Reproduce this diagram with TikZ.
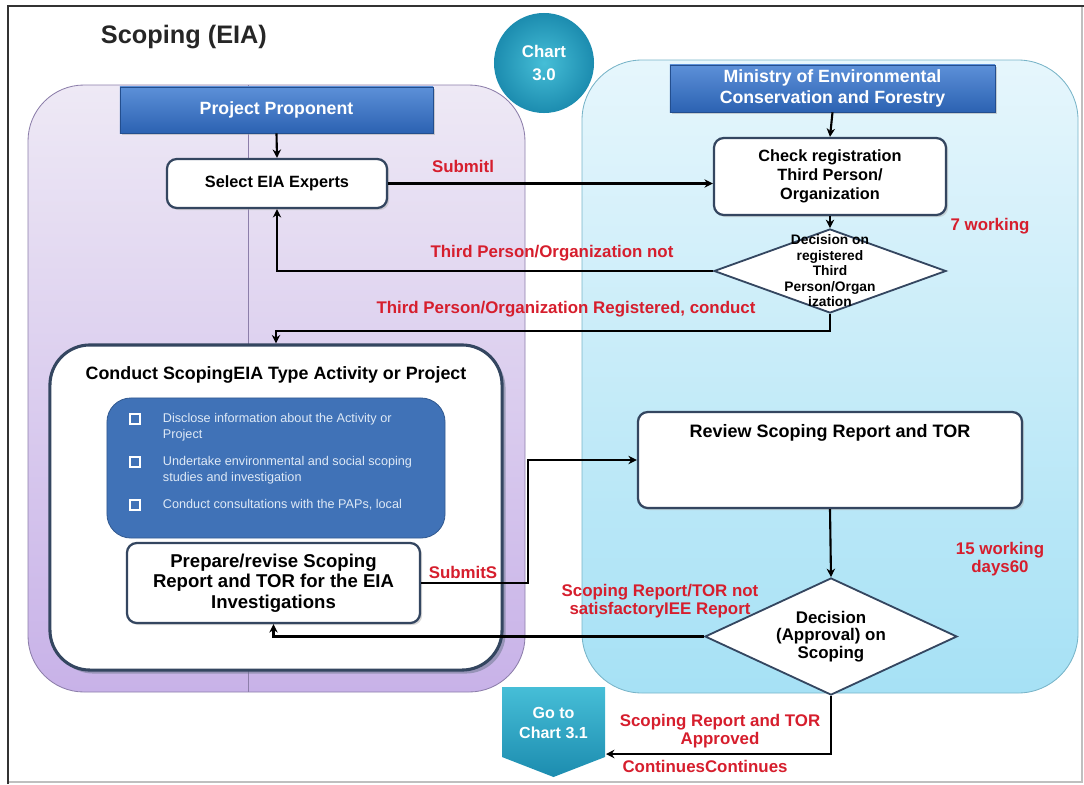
\documentclass[tikz,border=0pt]{standalone}
\usepackage{fontspec}
\setmainfont{Liberation Sans}
\setsansfont{Liberation Sans}
\usetikzlibrary{positioning,shapes.geometric,arrows.meta,shadows}

\definecolor{boxline}{RGB}{52,70,96}
\definecolor{notered}{RGB}{214,30,45}
\definecolor{hdrtop}{RGB}{92,144,216}
\definecolor{hdrbot}{RGB}{44,98,178}
\definecolor{innerblue}{RGB}{64,114,183}
\definecolor{bullettext}{RGB}{222,233,246}
\definecolor{lilactop}{RGB}{238,233,245}
\definecolor{lilacbot}{RGB}{200,178,232}
\definecolor{lilacline}{RGB}{140,126,170}
\definecolor{cyantop}{RGB}{230,246,252}
\definecolor{cyanbot}{RGB}{166,225,245}
\definecolor{cyanline}{RGB}{120,180,200}
\definecolor{tealtop}{RGB}{70,190,215}
\definecolor{tealbot}{RGB}{28,140,175}

\tikzset{
  lanehdr/.style={rectangle, inner sep=0pt, align=center, text=white,
    font=\bfseries\fontsize{12.6}{14.4}\selectfont,
    top color=hdrtop, bottom color=hdrbot, draw=hdrbot!80!black, line width=0.4pt,
    drop shadow={shadow xshift=1.5pt, shadow yshift=-1.5pt, fill=black!35}},
  procbox/.style={rectangle, rounded corners=7pt, draw=boxline, line width=1.6pt,
    fill=white, inner sep=0pt, align=center,
    font=\bfseries\fontsize{11.6}{13.6}\selectfont,
    drop shadow={shadow xshift=1.5pt, shadow yshift=-1.5pt, fill=black!30}},
  decision/.style={diamond, draw=boxline, line width=1.3pt, fill=white, inner sep=0pt},
  flow/.style={-{Stealth[length=6pt, width=6pt]}, line width=1.5pt, black},
  note/.style={text=notered, align=center, font=\bfseries\fontsize{12}{13.2}\selectfont},
  tickbox/.style={rectangle, draw=white, line width=0.9pt, minimum size=7pt, inner sep=0pt},
  bullettxt/.style={anchor=west, align=left, text=bullettext, font=\fontsize{9}{11.6}\selectfont}
}

\begin{document}
\begin{tikzpicture}[x=0.025cm, y=-0.025cm]
  \useasboundingbox (0,0) rectangle (1084,784);

  %%%%% FRAME %%%%%
  \draw[black!25, line width=0.8pt] (8,6) rectangle (1082,782);
  \draw[black!80, line width=1.5pt] (8,784) -- (8,6) -- (1084,6);

  \node[anchor=west, text=black!85, font=\bfseries\fontsize{18}{20}\selectfont] (title) at (96,37) {Scoping (EIA)};

  %%%%% LANES %%%%%
  \draw[rounded corners=1.4cm, top color=lilactop, bottom color=lilacbot, draw=lilacline, line width=0.6pt] (28,85) rectangle (525,692);
  \draw[lilacline, line width=0.6pt] (248,85) -- (248,692);
  \draw[rounded corners=1.5cm, top color=cyantop, bottom color=cyanbot, draw=cyanline, line width=0.6pt] (582,60) rectangle (1078,693);

  \node[circle, minimum size=2.5cm, inner sep=0pt, inner color=tealtop, outer color=tealbot,
    text=white, align=center, font=\bfseries\fontsize{12}{17}\selectfont] (chart) at (544,63) {Chart\\3.0};

  %%%%% HEADERS %%%%%
  \node[lanehdr, minimum width=7.825cm, minimum height=1.15cm] (proponent) at (276.5,110) {Project Proponent};
  \node[lanehdr, minimum width=8.125cm, minimum height=1.175cm] (ministry) at (832.5,88.5) {Ministry of Environmental\\Conservation and Forestry};

  %%%%% REGISTRATION %%%%%
  \node[procbox, minimum width=5.5cm, minimum height=1.225cm] (select) at (277,183.5) {Select EIA Experts};
  \node[procbox, minimum width=5.8cm, minimum height=1.925cm] (check) at (830,176.5) {Check registration\\Third Person/\\Organization};
  \node[decision, minimum width=5.8cm, minimum height=2.1cm,
    label={[align=center, font=\bfseries\fontsize{9.8}{11}\selectfont]center:Decision on\\registered\\Third\\Person/Organ\\ization}] (dec1) at (830,271) {};

  %%%%% SCOPING %%%%%
  \node[rectangle, rounded corners=1cm, draw=boxline, line width=2.2pt, fill=white,
    minimum width=11.3cm, minimum height=8.125cm,
    drop shadow={shadow xshift=2.5pt, shadow yshift=-2.5pt, fill=boxline!75}] (conduct) at (276,507.5) {};
  \node[font=\bfseries\fontsize{12.7}{14}\selectfont] (conducttxt) at (276,375) {Conduct ScopingEIA Type Activity or Project};
  \node[rectangle, rounded corners=0.6cm, fill=innerblue, draw=innerblue!80!black, line width=0.6pt,
    minimum width=8.45cm, minimum height=3.5cm] (tasks) at (276,468) {};

  \node[tickbox] (tick1) at (135,419) {};
  \node[tickbox] (tick2) at (135,462) {};
  \node[tickbox] (tick3) at (135,505) {};
  \node[bullettxt] (task1) at (158,427) {Disclose information about the Activity or\\Project};
  \node[bullettxt] (task2) at (158,470) {Undertake environmental and social scoping\\studies and investigation};
  \node[bullettxt] (task3) at (158,505) {Conduct consultations with the PAPs, local};

  \node[procbox, minimum width=7.325cm, minimum height=2cm, font=\bfseries\fontsize{13.2}{14.4}\selectfont] (prepare) at (273.5,583) {Prepare/revise Scoping\\Report and TOR for the EIA\\Investigations};

  \node[procbox, minimum width=9.6cm, minimum height=2.4cm] (review) at (830,460) {};
  \node[font=\bfseries\fontsize{12.8}{14}\selectfont] (reviewtxt) at (830,433) {Review Scoping Report and TOR};
  \node[decision, minimum width=6.3cm, minimum height=2.925cm,
    label={[align=center, font=\bfseries\fontsize{12}{12.6}\selectfont]center:Decision\\(Approval) on\\Scoping}] (dec2) at (831,636.5) {};

  %%%%% GO TO %%%%%
  \draw[top color=tealtop, bottom color=tealbot, draw=none] (502,687) -- (605,687) -- (605,757) -- (553.5,777) -- (502,757) -- cycle;
  \node[text=white, align=center, font=\bfseries\fontsize{11.4}{14}\selectfont] (goto) at (553.5,723) {Go to\\Chart 3.1};
  \coordinate (gotoin) at (606,754);

  %%%%% CONNECTORS %%%%%
  \draw[flow] (proponent.south) -- (select.north);
  \draw[flow] (ministry.south) -- (check.north);
  \draw[flow] (select.east) -- (select.east -| check.west);
  \draw[flow] (check.south) -- (dec1.north);
  \draw[flow] (dec1.west) -| (select.south);
  \draw[flow] (dec1.south) -- ++(0,17) -| (conduct.north);
  \draw[flow] (prepare.east) -- ++(107,0) |- (review.west);
  \draw[flow] (review.south) -- (dec2.north);
  \draw[flow] (dec2.west) -| (prepare.south);
  \draw[flow] (dec2.south) |- (gotoin);

  %%%%% LABELS %%%%%
  \node[note] (lsubmit1) at (463,166) {Submitl};
  \node[note] (lnotreg) at (552,253) {Third Person/Organization not};
  \node[note] (lreg) at (566,309) {Third Person/Organization Registered, conduct};
  \node[note] (lseven) at (990,226) {7 working};
  \node[note] (lsubmit2) at (463,572) {SubmitS};
  \node[note] (lfifteen) at (1000,559) {15 working\\days60};
  \node[note] (lnotok) at (660,601) {Scoping Report/TOR not\\satisfactoryIEE Report};
  \node[note] (lok) at (720,731) {Scoping Report and TOR\\Approved};
  \node[note] (lcont) at (705,766) {ContinuesContinues};
\end{tikzpicture}
\end{document}
